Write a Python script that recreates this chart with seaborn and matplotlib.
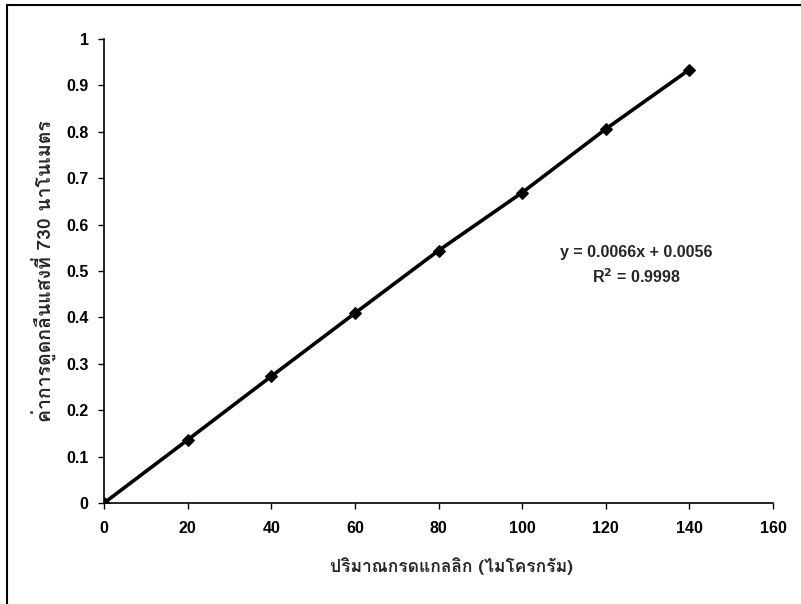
import matplotlib
matplotlib.use("Agg")
import matplotlib.pyplot as plt
import seaborn as sns
import pandas as pd
from matplotlib import font_manager
from matplotlib.ft2font import FT2Font
from matplotlib.patches import Rectangle

# data
gallic_ug = [0, 20, 40, 60, 80, 100, 120, 140]
absorbance = [0.0, 0.136, 0.273, 0.409, 0.544, 0.669, 0.806, 0.934]
x_ticks = [0, 20, 40, 60, 80, 100, 120, 140, 160]
y_ticks = [0, 0.1, 0.2, 0.3, 0.4, 0.5, 0.6, 0.7, 0.8, 0.9, 1]
x_label = "ปริมาณกรดแกลลิก (ไมโครกรัม)"
y_label = "ค่าการดูดกลืนแสงที่ 730 นาโนเมตร"
eq_text = "y = 0.0066x + 0.0056\nR$^2$ = 0.9998"

sns.set_theme(style="white")

# find a font that covers Thai
thai_family = None
for f in font_manager.fontManager.ttflist:
    try:
        cmap = FT2Font(f.fname).get_charmap()
        if ord("ก") in cmap:
            thai_family = f.name
            break
    except Exception:
        pass
fams = ["Liberation Sans", "DejaVu Sans"]
label_fams = ([thai_family] if thai_family else []) + fams
plt.rcParams["font.family"] = fams
plt.rcParams["mathtext.default"] = "bf"

df = pd.DataFrame({"x": gallic_ug, "y": absorbance})

fig = plt.figure(figsize=(8.01, 6.04), dpi=100)
ax = fig.add_axes([104 / 801, 101 / 604, 669 / 801, 464 / 604])

sns.lineplot(data=df, x="x", y="y", ax=ax, color="black", linewidth=2.6,
             marker="D", markersize=6, markeredgecolor="black")

ax.set_xlim(0, 160)
ax.set_ylim(0, 1)
ax.set_xticks(x_ticks)
ax.set_yticks(y_ticks)
ax.set_xticklabels([str(v) for v in x_ticks], fontsize=11.5, fontweight="bold")
ax.set_yticklabels([("%g" % v) for v in y_ticks], fontsize=11.5, fontweight="bold")
for s in ["top", "right"]:
    ax.spines[s].set_visible(False)
for s in ["left", "bottom"]:
    ax.spines[s].set_color("black")
    ax.spines[s].set_linewidth(1.2)
ax.tick_params(axis="both", direction="out", length=4, width=1, color="black",
               bottom=True, left=True, labelcolor="black")
ax.tick_params(axis="x", pad=9)
ax.tick_params(axis="y", pad=7)
ax.set_xlabel(x_label, fontsize=12.5, fontweight="bold", family=label_fams)
ax.xaxis.set_label_coords(0.52, -0.136)
ax.xaxis.label.set_va("center")
ax.set_ylabel(y_label, fontsize=14, fontweight="bold", family=label_fams, labelpad=7)

ax.text(0.795, 0.512, eq_text, transform=ax.transAxes, ha="center", va="center",
        fontsize=11.5, fontweight="bold", linespacing=1.45)

fig.patches.append(Rectangle((7 / 801, -0.1), 1.2, 0.1 + 599 / 604,
                             transform=fig.transFigure, fill=False,
                             edgecolor="black", linewidth=1.5))

fig.savefig("out.png", dpi=100)
